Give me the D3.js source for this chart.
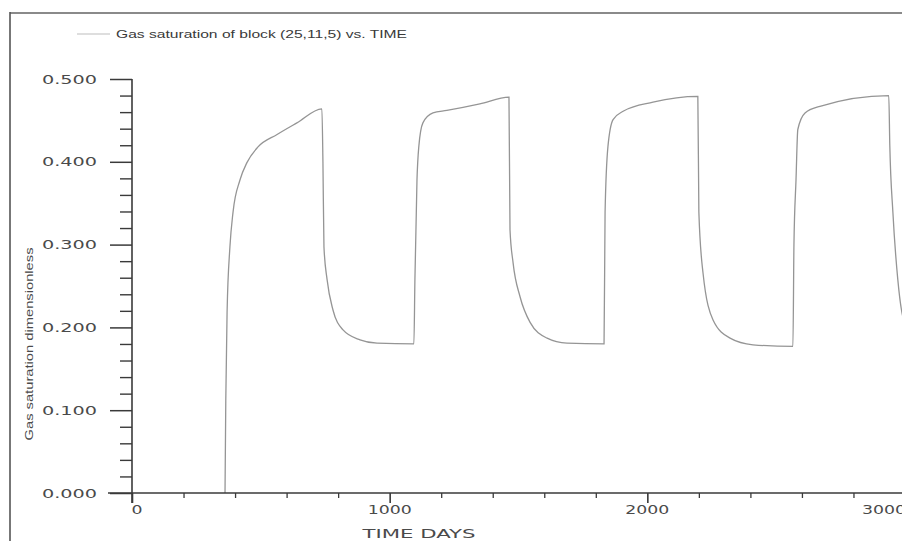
<!DOCTYPE html>
<html>
<head>
<meta charset="utf-8">
<script src="https://cdn.jsdelivr.net/npm/d3@7"></script>
<style>
  html, body { margin: 0; padding: 0; background: #fff; overflow: hidden; }
  svg { display: block; }
</style>
</head>
<body>
<svg id="chart" width="902" height="541"></svg>
<script>
// Gas saturation of grid block (25,11,5) over time, cyclic gas injection
const timeDays = [
  361, 364, 369, 380, 392, 419, 446, 489, 563, 640, 737,
  741, 745, 757, 780, 819, 885, 951, 1094,
  1098, 1106, 1113, 1129, 1168, 1222, 1350, 1463,
  1467, 1479, 1506, 1545, 1611, 1688, 1832,
  1836, 1847, 1867, 1906, 2022, 2196,
  2200, 2216, 2255, 2321, 2410, 2565,
  2569, 2577, 2584, 2612, 2670, 2937,
  2941, 2953, 2972, 2988, 3000
];
const gasSaturation = [
  0.000, 0.112, 0.218, 0.297, 0.339, 0.378, 0.399, 0.418, 0.433, 0.447, 0.464,
  0.400, 0.297, 0.258, 0.221, 0.197, 0.185, 0.181, 0.180,
  0.258, 0.378, 0.418, 0.447, 0.459, 0.462, 0.470, 0.478,
  0.318, 0.278, 0.237, 0.206, 0.187, 0.181, 0.180,
  0.339, 0.418, 0.451, 0.461, 0.472, 0.479,
  0.339, 0.266, 0.209, 0.187, 0.179, 0.177,
  0.300, 0.378, 0.439, 0.459, 0.467, 0.480,
  0.420, 0.339, 0.258, 0.218, 0.205
];

const xMajorTicks = [0, 1000, 2000, 3000];
const xTickLabels = ["0", "1000", "2000", "3000"];
const yMajorTicks = [0, 0.1, 0.2, 0.3, 0.4, 0.5];
const yTickLabels = ["0.000", "0.100", "0.200", "0.300", "0.400", "0.500"];

const legendText = "Gas saturation of block (25,11,5) vs. TIME";
const yTitle = "Gas saturation  dimensionless";
const xTitle = "TIME  DAYS";

const svg = d3.select("#chart");
const axisColor = "#3a3a3a";
const labelColor = "#4a4a4a";
const curveColor = "#959595";
const labelFont = "DejaVu Sans, sans-serif";
const charWidth = 11;   // wide plotter-style digits

const x = d3.scaleLinear().domain([0, 3000]).range([132, 905]);
const y = d3.scaleLinear().domain([0, 0.5]).range([493, 79]);

// outer frame (top and left edges)
svg.append("line").attr("x1", 10).attr("x2", 902).attr("y1", 13).attr("y2", 13)
  .attr("stroke", "#8a8a8a").attr("stroke-width", 2);
svg.append("line").attr("x1", 10).attr("x2", 10).attr("y1", 12).attr("y2", 541)
  .attr("stroke", "#555").attr("stroke-width", 1.6);

// legend
svg.append("line").attr("x1", 77).attr("x2", 110).attr("y1", 34).attr("y2", 34)
  .attr("stroke", "#bdbdbd").attr("stroke-width", 1.2);
svg.append("text").attr("x", 116).attr("y", 38)
  .attr("font-family", "Liberation Sans, Arial, sans-serif")
  .attr("font-size", 11).attr("fill", "#3a3a3a")
  .attr("textLength", 291).attr("lengthAdjust", "spacingAndGlyphs")
  .text(legendText);

// saturation curve
const data = timeDays.map((t, i) => ({ t, v: gasSaturation[i] }));
const line = d3.line().x(d => x(d.t)).y(d => y(d.v)).curve(d3.curveMonotoneX);
svg.append("path").datum(data)
  .attr("fill", "none").attr("stroke", curveColor).attr("stroke-width", 1.3)
  .attr("d", line);

// y axis: ticks point left, minor ticks every 0.02
const yAxis = d3.axisLeft(y).tickValues(yMajorTicks).tickSize(22).tickFormat("");
const yG = svg.append("g").attr("transform", "translate(132,0)").call(yAxis);
yG.select(".domain").remove();
yG.selectAll(".tick text").remove();
yG.selectAll(".tick line").attr("stroke", axisColor).attr("stroke-width", 1.5);

const yMinor = d3.range(0, 0.5001, 0.02).filter(v => Math.abs(v * 10 - Math.round(v * 10)) > 1e-6);
const yMinorAxis = d3.axisLeft(y).tickValues(yMinor).tickSize(12).tickFormat("");
const yMinorG = svg.append("g").attr("transform", "translate(132,0)").call(yMinorAxis);
yMinorG.select(".domain").remove();
yMinorG.selectAll(".tick text").remove();
yMinorG.selectAll(".tick line").attr("stroke", axisColor).attr("stroke-width", 1.4);

svg.append("line").attr("x1", 132).attr("x2", 132).attr("y1", y(0.5)).attr("y2", 503)
  .attr("stroke", axisColor).attr("stroke-width", 1.6);

// x axis: ticks point down, minor ticks every 200 days
const xAxis = d3.axisBottom(x).tickValues(xMajorTicks).tickSize(10).tickFormat("");
const xG = svg.append("g").attr("transform", "translate(0,493)").call(xAxis);
xG.select(".domain").remove();
xG.selectAll(".tick text").remove();
xG.selectAll(".tick line").attr("stroke", axisColor).attr("stroke-width", 1.6);

const xMinor = d3.range(200, 3001, 200).filter(v => v % 1000 !== 0);
const xMinorAxis = d3.axisBottom(x).tickValues(xMinor).tickSize(5).tickFormat("");
const xMinorG = svg.append("g").attr("transform", "translate(0,493)").call(xMinorAxis);
xMinorG.select(".domain").remove();
xMinorG.selectAll(".tick text").remove();
xMinorG.selectAll(".tick line").attr("stroke", axisColor).attr("stroke-width", 1.3);

svg.append("line").attr("x1", 108).attr("x2", 902).attr("y1", 493).attr("y2", 493)
  .attr("stroke", axisColor).attr("stroke-width", 1.6);

// axis titles
svg.append("text").attr("x", 419).attr("y", 538).attr("text-anchor", "middle")
  .attr("font-family", labelFont).attr("font-size", 12).attr("fill", labelColor)
  .attr("textLength", 113).attr("lengthAdjust", "spacingAndGlyphs")
  .text(xTitle);

svg.append("text")
  .attr("transform", "translate(33,344) rotate(-90)")
  .attr("text-anchor", "middle")
  .attr("font-family", "Liberation Sans, Arial, sans-serif")
  .attr("font-size", 11).attr("fill", labelColor)
  .attr("textLength", 193).attr("lengthAdjust", "spacingAndGlyphs")
  .text(yTitle);

// y tick labels
svg.append("g").selectAll("text")
  .data(yMajorTicks)
  .join("text")
  .attr("x", 97).attr("y", d => y(d) + 4.5)
  .attr("text-anchor", "end")
  .attr("font-family", labelFont).attr("font-size", 12).attr("fill", labelColor)
  .attr("textLength", (d, i) => yTickLabels[i].length * charWidth)
  .attr("lengthAdjust", "spacingAndGlyphs")
  .text((d, i) => yTickLabels[i]);

// x tick labels, centred under the ticks; the last one may run past the right edge
svg.append("g").selectAll("text")
  .data(xMajorTicks)
  .join("text")
  .attr("x", (d, i) => {
    const w = xTickLabels[i].length * charWidth;
    return Math.min(x(d) + (i === 0 ? 5 : 0), 906 - w / 2);
  })
  .attr("y", 514)
  .attr("text-anchor", "middle")
  .attr("font-family", labelFont).attr("font-size", 12).attr("fill", labelColor)
  .attr("textLength", (d, i) => xTickLabels[i].length * charWidth)
  .attr("lengthAdjust", "spacingAndGlyphs")
  .text((d, i) => xTickLabels[i]);
</script>
</body>
</html>
